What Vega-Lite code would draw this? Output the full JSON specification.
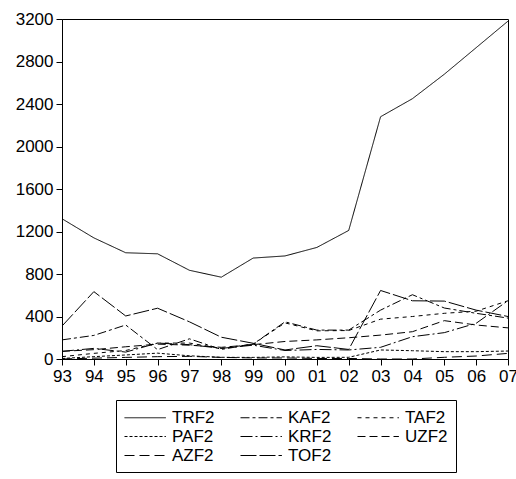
{
  "$schema": "https://vega.github.io/schema/vega-lite/v6.json",
  "width": 446,
  "height": 340,
  "autosize": {"type": "none"},
  "padding": {"left": 62, "top": 19, "right": 8, "bottom": 120},
  "background": "white",
  "config": {
    "font": "Liberation Sans",
    "view": {"stroke": "black", "strokeWidth": 1},
    "axis": {"domainColor": "black", "tickColor": "black", "labelColor": "black", "labelFont": "Liberation Sans", "labelFontSize": 17, "grid": false, "title": null, "tickSize": 6}
  },
  "data": {"values": [
    {"year":"93","series":"TRF2","value":1320},{"year":"94","series":"TRF2","value":1140},{"year":"95","series":"TRF2","value":1000},{"year":"96","series":"TRF2","value":990},{"year":"97","series":"TRF2","value":835},{"year":"98","series":"TRF2","value":770},{"year":"99","series":"TRF2","value":950},{"year":"00","series":"TRF2","value":970},{"year":"01","series":"TRF2","value":1050},{"year":"02","series":"TRF2","value":1210},{"year":"03","series":"TRF2","value":2280},{"year":"04","series":"TRF2","value":2450},{"year":"05","series":"TRF2","value":2680},{"year":"06","series":"TRF2","value":2930},{"year":"07","series":"TRF2","value":3180},
    {"year":"93","series":"KAF2","value":180},{"year":"94","series":"KAF2","value":222},{"year":"95","series":"KAF2","value":320},{"year":"96","series":"KAF2","value":88},{"year":"97","series":"KAF2","value":190},{"year":"98","series":"KAF2","value":90},{"year":"99","series":"KAF2","value":140},{"year":"00","series":"KAF2","value":350},{"year":"01","series":"KAF2","value":272},{"year":"02","series":"KAF2","value":272},{"year":"03","series":"KAF2","value":460},{"year":"04","series":"KAF2","value":605},{"year":"05","series":"KAF2","value":480},{"year":"06","series":"KAF2","value":430},{"year":"07","series":"KAF2","value":385},
    {"year":"93","series":"TAF2","value":22},{"year":"94","series":"TAF2","value":53},{"year":"95","series":"TAF2","value":80},{"year":"96","series":"TAF2","value":150},{"year":"97","series":"TAF2","value":150},{"year":"98","series":"TAF2","value":100},{"year":"99","series":"TAF2","value":140},{"year":"00","series":"TAF2","value":340},{"year":"01","series":"TAF2","value":265},{"year":"02","series":"TAF2","value":268},{"year":"03","series":"TAF2","value":375},{"year":"04","series":"TAF2","value":400},{"year":"05","series":"TAF2","value":430},{"year":"06","series":"TAF2","value":450},{"year":"07","series":"TAF2","value":548},
    {"year":"93","series":"PAF2","value":5},{"year":"94","series":"PAF2","value":22},{"year":"95","series":"PAF2","value":38},{"year":"96","series":"PAF2","value":55},{"year":"97","series":"PAF2","value":30},{"year":"98","series":"PAF2","value":16},{"year":"99","series":"PAF2","value":15},{"year":"00","series":"PAF2","value":20},{"year":"01","series":"PAF2","value":15},{"year":"02","series":"PAF2","value":16},{"year":"03","series":"PAF2","value":85},{"year":"04","series":"PAF2","value":78},{"year":"05","series":"PAF2","value":69},{"year":"06","series":"PAF2","value":69},{"year":"07","series":"PAF2","value":75},
    {"year":"93","series":"KRF2","value":72},{"year":"94","series":"KRF2","value":100},{"year":"95","series":"KRF2","value":65},{"year":"96","series":"KRF2","value":150},{"year":"97","series":"KRF2","value":135},{"year":"98","series":"KRF2","value":100},{"year":"99","series":"KRF2","value":130},{"year":"00","series":"KRF2","value":80},{"year":"01","series":"KRF2","value":90},{"year":"02","series":"KRF2","value":85},{"year":"03","series":"KRF2","value":110},{"year":"04","series":"KRF2","value":210},{"year":"05","series":"KRF2","value":248},{"year":"06","series":"KRF2","value":336},{"year":"07","series":"KRF2","value":549},
    {"year":"93","series":"UZF2","value":72},{"year":"94","series":"UZF2","value":88},{"year":"95","series":"UZF2","value":115},{"year":"96","series":"UZF2","value":140},{"year":"97","series":"UZF2","value":130},{"year":"98","series":"UZF2","value":110},{"year":"99","series":"UZF2","value":135},{"year":"00","series":"UZF2","value":165},{"year":"01","series":"UZF2","value":180},{"year":"02","series":"UZF2","value":200},{"year":"03","series":"UZF2","value":225},{"year":"04","series":"UZF2","value":257},{"year":"05","series":"UZF2","value":361},{"year":"06","series":"UZF2","value":320},{"year":"07","series":"UZF2","value":293},
    {"year":"93","series":"AZF2","value":0},{"year":"94","series":"AZF2","value":8},{"year":"95","series":"AZF2","value":15},{"year":"96","series":"AZF2","value":22},{"year":"97","series":"AZF2","value":25},{"year":"98","series":"AZF2","value":15},{"year":"99","series":"AZF2","value":10},{"year":"00","series":"AZF2","value":10},{"year":"01","series":"AZF2","value":5},{"year":"02","series":"AZF2","value":5},{"year":"03","series":"AZF2","value":0},{"year":"04","series":"AZF2","value":0},{"year":"05","series":"AZF2","value":16},{"year":"06","series":"AZF2","value":28},{"year":"07","series":"AZF2","value":53},
    {"year":"93","series":"TOF2","value":310},{"year":"94","series":"TOF2","value":634},{"year":"95","series":"TOF2","value":405},{"year":"96","series":"TOF2","value":478},{"year":"97","series":"TOF2","value":350},{"year":"98","series":"TOF2","value":205},{"year":"99","series":"TOF2","value":148},{"year":"00","series":"TOF2","value":85},{"year":"01","series":"TOF2","value":125},{"year":"02","series":"TOF2","value":90},{"year":"03","series":"TOF2","value":645},{"year":"04","series":"TOF2","value":548},{"year":"05","series":"TOF2","value":545},{"year":"06","series":"TOF2","value":460},{"year":"07","series":"TOF2","value":400}
  ]},
  "mark": {"type": "line", "color": "black", "strokeWidth": 1, "clip": true},
  "encoding": {
    "x": {"field": "year", "type": "ordinal", "sort": ["93","94","95","96","97","98","99","00","01","02","03","04","05","06","07"],
      "scale": {"type": "point", "padding": 0},
      "axis": {"labelAngle": 0, "labelPadding": 3, "domain": true}},
    "y": {"field": "value", "type": "quantitative", "scale": {"domain": [0, 3200], "nice": false},
      "axis": {"values": [0,400,800,1200,1600,2000,2400,2800,3200], "format": "d", "labelPadding": 3}},
    "strokeDash": {"field": "series", "type": "nominal",
      "scale": {"domain": ["TRF2","KAF2","TAF2","PAF2","KRF2","UZF2","AZF2","TOF2"],
        "range": [[1,0],[9,3,3,3],[4,4],[3,2],[12,3,2,3],[8,4,8,4],[10,5],[16,3]]},
      "legend": {"orient": "none", "legendX": 54, "legendY": 381, "direction": "horizontal", "columns": 3,
        "title": null, "symbolType": "M-1,0H3.6", "symbolSize": 324, "symbolStrokeColor": "black", "symbolStrokeWidth": 1, "symbolFillColor": "transparent",
        "labelFont": "Liberation Sans", "labelFontSize": 17, "labelColor": "black", "labelOffset": 29,
        "columnPadding": 23, "rowPadding": 1, "padding": 8, "strokeColor": "black", "fillColor": "white"}}
  }
}
